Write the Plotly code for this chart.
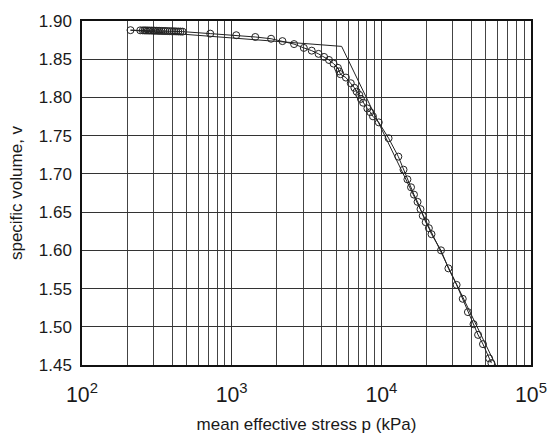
import plotly.graph_objects as go

# measured data (mean effective stress p in kPa, specific volume v)
p_data = [211, 245, 255, 262, 268, 275, 282, 290, 298, 305, 313, 322, 330, 340,
          350, 360, 372, 385, 398, 412, 425, 440, 455, 470,
          719, 1073, 1438, 1834, 2184, 2611, 3035, 3426, 3807, 4147, 4471, 4791,
          5127, 5236, 5331, 5798, 6249, 6607, 6839, 7122, 7306, 7563, 8067, 8440,
          8789, 9617, 11180, 12990, 14070, 14940, 15790, 16520, 17460, 18270,
          18910, 19790, 20780, 21640, 25040, 28060, 31840, 34990, 37890, 41290,
          44310, 47770, 52520, 54360]
v_data = [1.8880, 1.8878, 1.8877, 1.8877, 1.8876, 1.8876, 1.8875, 1.8875, 1.8874, 1.8873, 1.8873, 1.8872, 1.8871, 1.8870,
          1.8869, 1.8869, 1.8868, 1.8867, 1.8866, 1.8865, 1.8864, 1.8863, 1.8862, 1.8861,
          1.8835, 1.8814, 1.8791, 1.8768, 1.8737, 1.8698, 1.8648, 1.8612, 1.8570, 1.8530, 1.8490, 1.8443,
          1.8387, 1.8341, 1.8304, 1.8260, 1.8186, 1.8126, 1.8076, 1.8034, 1.7981, 1.7931, 1.7856, 1.7807,
          1.7753, 1.7674, 1.7467, 1.7226, 1.7055, 1.6928, 1.6825, 1.6729, 1.6634, 1.6539,
          1.6452, 1.6368, 1.6290, 1.6211, 1.6000, 1.5764, 1.5548, 1.5366, 1.5192, 1.5034,
          1.4894, 1.4773, 1.4587, 1.4525]

# bilinear fit
p_fit = [211, 5430, 58000]
v_fit = [1.8880, 1.8668, 1.4500]

FONT = "Liberation Sans, Arial, sans-serif"

fig = go.Figure()
fig.add_trace(go.Scatter(x=p_fit, y=v_fit, mode="lines",
                         line=dict(color="#222222", width=1), showlegend=False))
fig.add_trace(go.Scatter(x=p_data, y=v_data, mode="lines+markers",
                         line=dict(color="#222222", width=1),
                         marker=dict(symbol="circle-open", size=7,
                                     color="#222222", line=dict(width=1)),
                         showlegend=False))

fig.update_layout(
    width=559, height=443,
    margin=dict(l=82, r=17, t=14, b=67),
    paper_bgcolor="white", plot_bgcolor="white",
    font=dict(family=FONT, size=17, color="#1a1a1a"),
    xaxis=dict(type="log", range=[2, 5], dtick=1, exponentformat="power",
               showexponent="all",
               showgrid=True, gridcolor="#333333", gridwidth=1,
               minor=dict(dtick="D1", showgrid=True, gridcolor="#444444",
                          gridwidth=1, ticks=""),
               showline=True, linecolor="#111111", linewidth=1.5, mirror=True,
               ticks="", ticklabelstandoff=11,
               title=dict(text="mean effective stress p (kPa)", standoff=12,
                          font=dict(size=17)),
               zeroline=False),
    yaxis=dict(range=[1.45, 1.90], dtick=0.05, tick0=1.45, tickformat=".2f",
               showgrid=True, gridcolor="#333333", gridwidth=1,
               showline=True, linecolor="#111111", linewidth=1.5, mirror=True,
               ticks="", ticklabelstandoff=5,
               title=dict(text="specific volume, v", standoff=12,
                          font=dict(size=17)),
               zeroline=False),
)

fig.write_html("out.html")
